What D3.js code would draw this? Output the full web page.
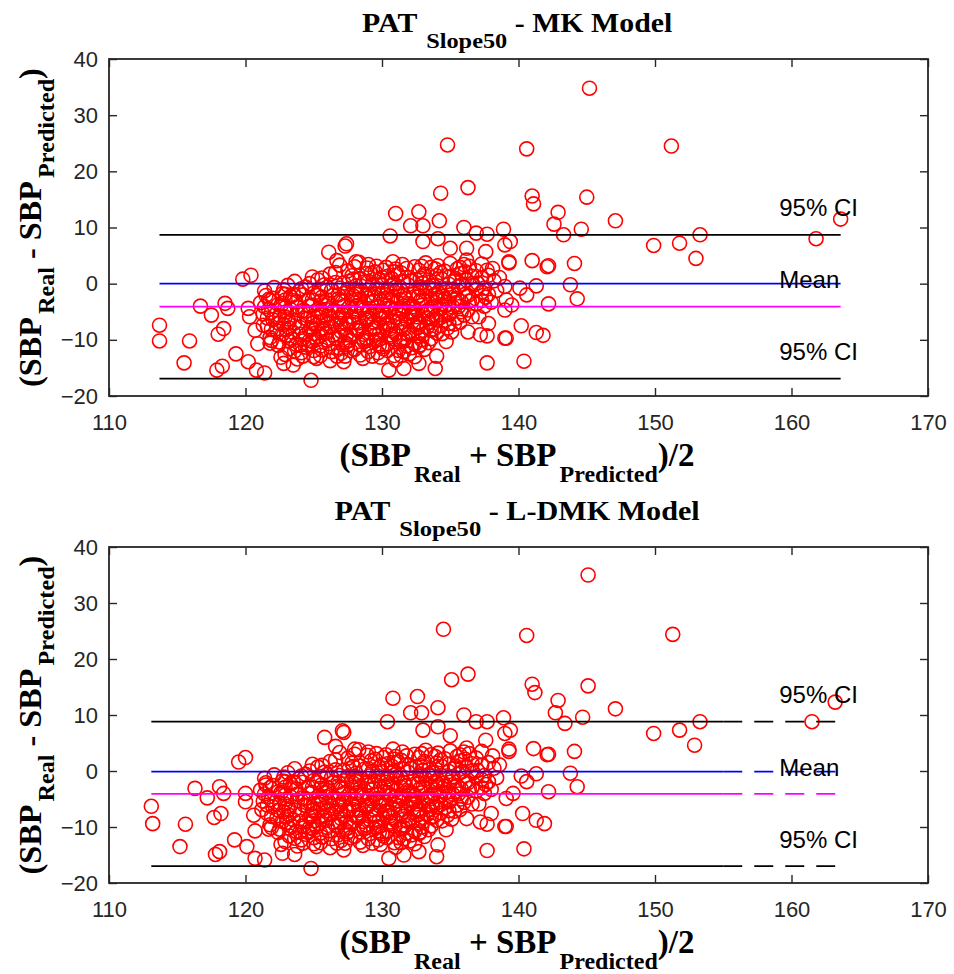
<!DOCTYPE html>
<html>
<head>
<meta charset="utf-8">
<script src="https://cdn.jsdelivr.net/npm/d3@7"></script>
<style>
body { margin: 0; background: #fff; }
svg { display: block; }
</style>
</head>
<body>
<svg id="chart" width="954" height="974"></svg>
<script>
// axis ranges and ticks
var xDomain = [110, 170],
    yDomain = [-20, 40],
    xTicks = [110, 120, 130, 140, 150, 160, 170],
    yTicks = [-20, -10, 0, 10, 20, 30, 40];

// dense centre of the cloud (looks the same in both panels)
var clusterPts = [
    [126.9,3.3],[128.3,3.8],[129.6,3.1],[130.8,3.9],[131.5,3.4],[132.4,3.0],[133.2,3.7],[134.1,3.2],[135.0,3.6],[136.4,3.1],[137.3,3.5],
    [127.5,2.3],[128.9,2.8],[130.1,2.4],[130.9,2.1],[131.8,2.7],[132.7,2.4],[133.6,2.9],[134.6,2.2],[135.5,2.6],[136.9,2.3],[138.1,2.7],
    [124.9,1.2],[126.2,1.7],[127.8,1.4],[129.2,1.8],[130.4,1.3],[131.2,1.6],[132.0,1.1],[133.1,1.7],[134.0,1.4],[134.9,1.2],[135.8,1.8],[136.6,1.3],[137.8,1.5],[138.6,1.1],
    [123.6,0.4],[125.3,0.7],[126.6,0.2],[127.9,0.8],[128.7,0.3],[129.8,0.6],[130.7,0.9],[131.6,0.3],[132.5,0.7],[133.4,0.2],[134.4,0.8],[135.3,0.4],[136.2,0.6],[137.0,0.1],[138.2,0.5],
    [122.1,-0.7],[123.1,-0.3],[124.4,-0.6],[125.8,-0.2],[126.9,-0.8],[128.1,-0.4],[129.1,-0.9],[130.0,-0.3],[131.0,-0.6],[131.9,-0.2],[132.8,-0.7],[133.8,-0.4],[134.7,-0.9],[135.6,-0.5],[136.7,-0.3],[137.5,-0.8],
    [121.4,-1.3],[122.7,-1.8],[123.9,-1.4],[125.0,-1.7],[126.3,-1.2],[127.4,-1.6],[128.5,-1.3],[129.5,-1.9],[130.4,-1.5],[131.4,-1.2],[132.3,-1.8],[133.2,-1.4],[134.1,-1.6],[135.1,-1.3],[136.1,-1.9],[137.3,-1.5],[138.4,-1.2],
    [122.0,-2.6],[123.3,-2.3],[124.6,-2.8],[125.6,-2.4],[126.8,-2.7],[127.9,-2.2],[128.9,-2.6],[129.9,-2.9],[130.8,-2.3],[131.7,-2.7],[132.6,-2.4],[133.6,-2.8],[134.5,-2.2],[135.5,-2.6],[136.6,-2.9],[137.6,-2.4],
    [121.1,-3.4],[122.4,-3.7],[123.7,-3.3],[124.9,-3.8],[126.0,-3.5],[127.1,-3.2],[128.2,-3.9],[129.2,-3.4],[130.2,-3.7],[131.1,-3.3],[132.0,-3.6],[132.9,-3.9],[133.9,-3.4],[134.9,-3.7],[135.8,-3.2],[136.9,-3.6],[138.0,-3.3],
    [121.7,-4.6],[122.9,-4.3],[124.2,-4.8],[125.4,-4.4],[126.5,-4.7],[127.6,-4.2],[128.7,-4.6],[129.6,-4.9],[130.6,-4.3],[131.5,-4.7],[132.4,-4.4],[133.3,-4.8],[134.3,-4.5],[135.2,-4.2],[136.3,-4.7],
    [121.3,-5.4],[122.5,-5.7],[123.8,-5.3],[125.0,-5.8],[126.1,-5.5],[127.2,-5.2],[128.3,-5.9],[129.3,-5.4],[130.3,-5.6],[131.2,-5.3],[132.1,-5.8],[133.0,-5.4],[134.0,-5.7],[135.0,-5.3],[136.0,-5.6],[137.1,-5.9],
    [122.0,-6.4],[123.2,-6.8],[124.5,-6.3],[125.7,-6.7],[126.8,-6.4],[127.9,-6.9],[128.9,-6.5],[129.8,-6.2],[130.8,-6.7],[131.8,-6.4],[132.7,-6.8],[133.7,-6.3],[134.6,-6.6],[135.7,-6.9],
    [121.6,-7.6],[122.8,-7.3],[124.0,-7.8],[125.2,-7.4],[126.3,-7.7],[127.4,-7.2],[128.5,-7.6],[129.5,-7.9],[130.5,-7.4],[131.4,-7.7],[132.3,-7.3],[133.3,-7.8],[134.3,-7.5],[135.3,-7.2],
    [122.3,-8.4],[123.5,-8.7],[124.7,-8.3],[125.9,-8.8],[127.0,-8.5],[128.1,-8.2],[129.1,-8.7],[130.1,-8.4],[131.0,-8.9],[132.0,-8.5],[133.0,-8.3],[134.0,-8.8],[135.1,-8.6],
    [121.8,-9.6],[123.0,-9.3],[124.2,-9.8],[125.4,-9.4],[126.6,-9.7],[127.7,-9.2],[128.8,-9.6],[129.8,-9.9],[130.7,-9.4],[131.7,-9.7],[132.7,-9.3],[133.6,-9.8],
    [122.5,-10.4],[123.7,-10.8],[124.9,-10.3],[126.1,-10.7],[127.3,-10.5],[128.4,-10.9],[129.4,-10.4],[130.4,-10.7],[131.4,-10.3],[132.4,-10.8],[133.4,-10.5],
    [123.2,-11.6],[124.4,-11.3],[125.6,-11.8],[126.8,-11.4],[128.0,-11.7],[129.1,-11.2],[130.1,-11.6],[131.2,-11.9],[132.2,-11.4],[133.1,-11.7],
    [122.9,-12.6],[124.1,-12.3],[125.5,-12.8],[127.0,-12.4],[128.4,-12.7],[129.7,-12.3],[130.9,-12.8],[132.0,-12.5],
    [123.8,-13.4],[126.2,-13.7],[128.6,-13.3],[131.0,-13.6],
    [123.0,-5.0],[124.3,-6.1],[125.6,-5.1],[126.9,-6.0],[128.0,-5.0],[129.0,-6.1],[130.0,-5.0],[131.0,-6.0],[132.2,-5.1],[133.4,-6.2],
    [123.6,-7.0],[124.8,-8.0],[126.0,-7.1],[127.2,-8.1],[128.3,-7.0],[129.4,-8.0],[130.4,-7.1],[131.6,-8.1],[132.6,-7.0],
    [123.4,-3.0],[124.7,-4.0],[126.0,-2.9],[127.2,-4.0],[128.4,-3.0],[129.6,-4.1],[130.6,-3.0],[131.6,-4.0],[132.8,-3.1],[133.8,-4.1],
    [124.0,-9.0],[125.2,-10.0],[126.4,-9.1],[127.6,-10.1],[128.6,-9.0],[129.6,-10.0],[130.6,-9.1],[131.6,-10.1],
    [125.5,-1.0],[126.8,-2.0],[128.0,-1.0],[129.2,-2.1],[130.4,-1.0],[131.6,-2.0],[132.8,-1.0],[134.0,-2.1],
    [122.8,-1.1],[124.1,-0.9],[127.5,-1.0],[129.7,-0.9],[131.1,-1.1],[133.5,-0.9],[135.2,-1.0],[136.9,-1.1],
    [121.5,-2.1],[122.9,-1.9],[124.2,-2.0],[125.3,-2.1],[128.1,-1.9],[130.3,-2.0],[132.7,-2.1],[133.9,-1.9],[135.0,-2.0],[136.3,-2.1],[137.8,-1.9],
    [121.8,-3.0],[122.9,-2.9],[125.5,-3.1],[127.0,-2.9],[129.4,-3.1],[131.4,-2.9],[134.1,-3.0],[135.3,-2.9],[136.4,-3.1],[137.3,-3.0],
    [121.4,-4.1],[122.6,-3.9],[123.8,-4.1],[125.9,-3.9],[128.1,-4.0],[130.4,-3.9],[132.3,-4.1],[134.6,-3.9],[135.6,-4.1],[137.5,-4.0],
    [121.9,-5.1],[124.4,-4.9],[126.8,-5.1],[129.1,-4.9],[131.5,-5.0],[133.6,-4.9],[134.7,-5.1],[135.8,-5.0],
    [121.6,-6.1],[122.9,-5.9],[125.5,-6.0],[127.8,-5.9],[130.1,-6.1],[132.5,-5.9],[134.3,-6.0],[135.5,-6.1],[136.6,-5.9],
    [122.4,-7.0],[125.0,-6.9],[127.0,-7.1],[129.4,-6.9],[131.4,-7.0],[133.5,-6.9],[134.9,-7.1],
    [121.9,-8.1],[123.2,-7.9],[125.8,-8.0],[128.2,-7.9],[130.6,-8.0],[132.6,-7.9],[133.8,-8.1],[134.8,-7.9],
    [122.7,-9.0],[125.0,-8.9],[127.4,-9.1],[129.8,-8.9],[131.9,-9.0],[133.0,-9.1],[134.4,-8.9],
    [121.9,-10.1],[123.4,-9.9],[124.7,-10.1],[126.8,-9.9],[128.9,-10.1],[130.9,-9.9],[132.9,-10.0],
    [122.4,-11.0],[124.0,-10.9],[125.5,-11.1],[127.5,-10.9],[129.8,-11.0],[131.8,-11.1],[132.8,-10.9],
    [123.6,-12.0],[125.0,-11.9],[126.3,-12.1],[127.7,-11.9],[129.0,-12.1],[130.4,-11.9],[131.6,-12.1],
    [122.6,-13.1],[125.0,-13.0],[127.3,-12.9],[129.9,-13.1],[132.4,-13.0],
    [124.7,0.0],[127.2,0.1],[129.3,-0.1],[130.9,0.0],[133.0,0.1],[134.9,-0.1],[136.6,0.0],
    [125.6,1.0],[128.4,0.9],[130.0,1.1],[132.8,1.0],[135.4,0.9],[137.3,1.0],
    [126.6,2.0],[129.5,2.1],[131.4,1.9],[134.3,2.0],[136.1,2.1],
    [128.0,3.0],[130.3,2.9],[132.9,3.1],[135.7,2.9],
    [123.3,-4.6],[124.6,-5.4],[125.9,-4.6],[127.1,-5.5],[128.5,-4.4],[129.8,-5.5],[131.0,-4.5],[132.3,-5.5],[133.5,-4.5],
    [123.1,-6.3],[124.9,-7.1],[126.3,-6.2],[127.6,-7.0],[128.8,-6.2],[130.2,-7.2],[131.3,-6.3],[132.8,-7.2],[134.0,-6.4],
    [123.0,-8.2],[124.4,-9.1],[125.6,-8.2],[126.9,-9.2],[128.3,-8.4],[129.5,-9.2],[130.8,-8.3],[132.2,-9.1],[133.6,-8.3],
    [123.2,-10.2],[124.6,-11.0],[126.0,-10.1],[127.4,-11.2],[128.7,-10.3],[130.0,-11.2],[131.3,-10.2],[132.7,-11.2],
    [123.5,-2.0],[124.9,-2.9],[126.4,-2.1],[127.8,-2.9],[129.0,-2.0],[130.2,-2.9],[131.6,-2.1],[133.0,-2.9],[134.6,-2.7],
    [124.2,-12.9],[126.7,-12.9],[129.3,-12.9],[131.4,-12.8],
    [126.0,-0.6],[127.6,0.4],[129.0,0.4],[130.6,-0.4],[132.1,0.5],[133.7,-0.3],[135.9,-0.1],
    [129.0,3.4],[131.0,2.6],[133.9,2.6],[136.0,3.4]
];

// points around the cloud, MK model
var mkPts = [
    [113.7,-7.4],[113.7,-10.2],[115.5,-14.1],[115.9,-10.2],[116.7,-4.0],[117.5,-5.6],[118.5,-3.5],[118.7,-4.4],[118.0,-9.0],[118.4,-8.0],
    [117.9,-15.4],[118.3,-14.7],[119.3,-12.5],[119.8,0.8],[120.4,1.5],[120.2,-4.4],[120.3,-5.9],[120.2,-13.9],[120.8,-15.4],[121.4,-15.9],
    [120.9,-10.7],[121.8,-10.6],[124.8,-17.2],[121.7,-2.8],[120.7,-8.3],[121.3,-7.4],
    [134.8,24.7],[136.3,17.1],[134.3,16.1],[131.0,12.5],[132.7,12.8],[132.1,10.3],[133.0,10.3],[134.2,11.2],[130.6,8.5],[136.0,10.0],
    [136.9,9.0],[137.7,8.8],[138.9,9.7],[133.0,7.5],[134.1,8.0],[135.0,6.3],[136.2,6.3],[137.6,5.7],[139.0,6.9],[139.3,3.9],
    [126.1,5.6],[127.3,6.7],[127.4,7.1],[126.7,4.1],[128.1,3.9],[128.9,1.8],[136.2,4.2],[137.7,2.4],[139.0,-0.5],
    [137.7,-14.1],[133.9,-15.1],[132.7,-14.2],[131.6,-15.1],[130.5,-15.4],[127.2,-13.9],[125.2,-13.3],[123.5,-14.5],[122.8,-14.2],
    [139.0,-9.7],[137.2,-9.1],[137.7,-9.3],[136.3,-8.6],[137.8,-7.1],[134.7,-10.3],[134.0,-12.9],
    [145.2,34.8],[140.6,24.0],[151.2,24.5],[141.0,15.6],[141.1,14.2],[145.0,15.4],[142.9,12.7],[142.6,10.6],[143.3,8.7],[144.6,9.7],
    [147.1,11.2],[153.3,8.7],[151.8,7.2],[149.9,6.8],[153.0,4.5],[161.8,8.0],[163.6,11.5],
    [139.4,7.5],[141.0,4.1],[142.1,3.0],[142.2,3.2],[144.1,3.6],[139.3,3.7],[140.1,-0.8],[140.6,-2.0],[141.3,-0.4],[143.8,-0.2],
    [144.3,-2.7],[142.2,-3.6],[139.5,-3.8],[139.1,-2.9],[139.0,-4.7],[140.2,-7.5],[141.3,-8.7],[141.8,-9.2],[139.1,-9.7],[140.4,-13.8]
];

// points around the cloud, L-DMK model
var ldmkPts = [
    [113.1,-6.3],[113.2,-9.4],[115.2,-13.5],[115.6,-9.5],[116.3,-3.1],[117.2,-4.8],[118.1,-2.8],[118.4,-4.0],[117.7,-8.3],[118.2,-7.6],
    [117.8,-14.9],[118.1,-14.4],[119.2,-12.3],[119.5,1.6],[120.0,2.4],[120.0,-4.0],[120.0,-5.5],[120.1,-13.5],[120.7,-15.6],[121.4,-15.9],
    [120.7,-10.7],[121.7,-10.4],[124.8,-17.4],[121.5,-2.5],[120.6,-7.9],[121.2,-6.9],
    [134.5,25.3],[136.3,17.3],[135.1,16.3],[130.8,13.0],[132.6,13.3],[132.1,10.4],[132.9,10.4],[134.1,11.3],[130.4,8.8],[136.0,10.0],
    [136.9,8.8],[137.7,8.8],[138.9,9.5],[133.0,7.3],[134.1,7.9],[135.0,6.3],[136.2,4.1],[137.6,5.5],[139.0,6.7],[139.3,3.5],
    [125.8,6.0],[127.1,7.2],[127.2,6.9],[126.6,4.4],[128.0,3.9],
    [137.7,-14.2],[134.0,-15.3],[132.7,-14.4],[131.6,-15.0],[130.5,-15.6],[127.2,-14.1],[125.2,-13.5],[123.6,-14.9],[122.7,-14.7],
    [139.0,-9.9],[137.2,-9.1],[137.7,-9.5],[136.2,-8.5],[138.0,-7.6],[134.7,-10.5],[134.1,-13.2],
    [145.1,35.0],[140.6,24.2],[151.3,24.4],[141.0,15.5],[141.2,14.0],[145.1,15.2],[142.9,12.6],[142.7,10.4],[143.4,8.5],[144.7,9.6],
    [147.1,11.1],[153.3,8.8],[151.8,7.3],[149.9,6.7],[152.9,4.6],[161.5,8.8],[163.2,12.3],
    [139.4,7.3],[141.1,4.0],[142.1,2.9],[142.2,3.0],[144.1,3.5],[139.3,3.9],[140.2,-0.9],[140.6,-1.9],[141.3,-0.5],[143.8,-0.4],
    [144.3,-2.8],[142.2,-3.7],[139.6,-4.0],[139.1,-4.9],[140.3,-7.6],[141.3,-8.8],[141.9,-9.4],[139.1,-9.9],[140.4,-13.9]
];

// reference lines: upper CI, zero, mean bias, lower CI
var mkRefY = [8.7, 0, -4.1, -16.9],
    ldmkRefY = [8.8, -0.1, -4.1, -17.0],
    mkRefX = [113.7, 163.6],
    ldmkRefX = [113.1, 163.2];
var refLabels = ["95% CI", "Mean", "95% CI"];

var svg = d3.select("#chart");
var left = 109, right = 928;
var refColors = ["#000000", "#0000ff", "#ff00ff", "#000000"];
var serif = "'Liberation Serif','Times New Roman',serif",
    sans = "'Liberation Sans',Arial,sans-serif";

var panels = [
    { model: "MK Model", top: 59, bottom: 396, pts: clusterPts.concat(mkPts), refY: mkRefY, refX: mkRefX, dashFrom: null, titleW: 311 },
    { model: "L-DMK Model", top: 547, bottom: 883, pts: clusterPts.concat(ldmkPts), refY: ldmkRefY, refX: ldmkRefX, dashFrom: 155, titleW: 366 }
];

// builds bold serif text with subscripts, centred and stretched to a width
function richText(parent, parts, mainSize, subSize, shift, width) {
    var t = parent.append("text")
        .attr("font-family", serif)
        .attr("font-weight", "bold")
        .attr("fill", "#000");
    var cur = 0;
    parts.forEach(function(p) {
        var target = p.sub ? shift : 0;
        t.append("tspan")
            .attr("dy", target - cur)
            .attr("dx", p.dx || 0)
            .attr("font-size", p.sub ? subSize : mainSize)
            .text(p.t);
        cur = target;
    });
    var b = t.node().getBBox();
    var s = width / b.width;
    t.attr("transform", "scale(" + s + ",1) translate(" + (-b.x - b.width / 2) + ",0)");
    return t;
}

panels.forEach(function(p) {
    var x = d3.scaleLinear().domain(xDomain).range([left, right]);
    var y = d3.scaleLinear().domain(yDomain).range([p.bottom, p.top]);
    var g = svg.append("g");

    g.selectAll("circle")
        .data(p.pts)
        .join("circle")
        .attr("cx", function(d) { return x(d[0]); })
        .attr("cy", function(d) { return y(d[1]); })
        .attr("r", 7)
        .attr("fill", "none")
        .attr("stroke", "#ff0000")
        .attr("stroke-width", 1.6);

    p.refY.forEach(function(v, i) {
        var split = p.dashFrom || p.refX[1];
        g.append("line")
            .attr("x1", x(p.refX[0])).attr("x2", x(split))
            .attr("y1", y(v)).attr("y2", y(v))
            .attr("stroke", refColors[i]).attr("stroke-width", 1.8);
        if (p.dashFrom) {
            g.append("line")
                .attr("x1", x(split)).attr("x2", x(p.refX[1]))
                .attr("y1", y(v)).attr("y2", y(v))
                .attr("stroke", refColors[i]).attr("stroke-width", 1.8)
                .attr("stroke-dasharray", "19,12");
        }
    });

    // line labels
    var labelY = [p.refY[0] + 3.3, p.refY[1] - 0.85, p.refY[3] + 3.3];
    refLabels.forEach(function(txt, i) {
        g.append("text")
            .attr("x", x(159.1))
            .attr("y", y(labelY[i]))
            .attr("font-family", sans)
            .attr("font-size", 24)
            .attr("fill", "#000")
            .text(txt);
    });

    // axes with inward ticks on all four sides
    function styleAxis(a) {
        a.select(".domain").remove();
        a.style("color", "#262626")
            .attr("font-family", sans)
            .attr("font-size", 22);
        a.selectAll(".tick line").attr("stroke-width", 1.4);
    }
    g.append("g")
        .attr("transform", "translate(0," + p.bottom + ")")
        .call(d3.axisBottom(x).tickValues(xTicks).tickSize(-8).tickPadding(18))
        .call(styleAxis);
    g.append("g")
        .attr("transform", "translate(0," + p.top + ")")
        .call(d3.axisTop(x).tickValues(xTicks).tickSize(-8).tickFormat(""))
        .call(styleAxis);
    g.append("g")
        .attr("transform", "translate(" + left + ",0)")
        .call(d3.axisLeft(y).tickValues(yTicks).tickSize(-8).tickPadding(11))
        .call(styleAxis);
    g.append("g")
        .attr("transform", "translate(" + right + ",0)")
        .call(d3.axisRight(y).tickValues(yTicks).tickSize(-8).tickFormat(""))
        .call(styleAxis);

    g.append("rect")
        .attr("x", left).attr("y", p.top)
        .attr("width", right - left).attr("height", p.bottom - p.top)
        .attr("fill", "none")
        .attr("stroke", "#262626")
        .attr("stroke-width", 1.8);

    // title
    var tg = g.append("g").attr("transform", "translate(517.5," + (p.top - 27) + ")");
    richText(tg, [
        { t: "PAT" },
        { t: "Slope50", sub: true, dx: 8 },
        { t: " - " + p.model }
    ], 27, 22, 16, p.titleW);

    // x label
    var xg = g.append("g").attr("transform", "translate(517," + (p.bottom + 70) + ")");
    richText(xg, [
        { t: "(SBP" },
        { t: "Real", sub: true, dx: 3 },
        { t: " + SBP" },
        { t: "Predicted", sub: true, dx: 3 },
        { t: ")/2" }
    ], 33, 24, 16, 355);

    // y label
    var yg = g.append("g")
        .attr("transform", "translate(41," + ((p.top + p.bottom) / 2) + ") rotate(-90)");
    richText(yg, [
        { t: "(SBP" },
        { t: "Real", sub: true, dx: 3 },
        { t: " - SBP" },
        { t: "Predicted", sub: true, dx: 3 },
        { t: ")" }
    ], 32, 24, 13, 319);
});
</script>
</body>
</html>
